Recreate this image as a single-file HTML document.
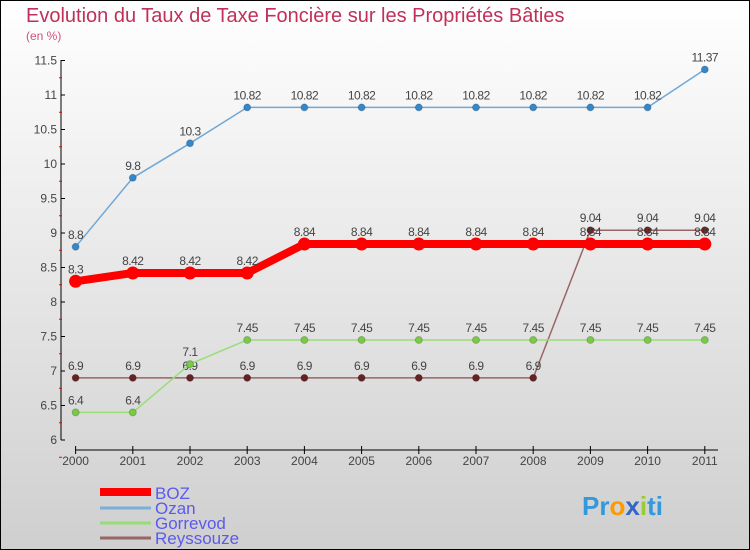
<!DOCTYPE html>
<html><head><meta charset="utf-8"><style>
body{margin:0}
svg{display:block;font-family:"Liberation Sans",sans-serif}
</style></head><body>
<svg width="750" height="550" viewBox="0 0 750 550">
<defs><linearGradient id="bg" x1="0" y1="0" x2="0" y2="1"><stop offset="0" stop-color="#ffffff"/><stop offset="1" stop-color="#cfcfcf"/></linearGradient></defs>
<rect x="0.5" y="0.5" width="749" height="549" fill="url(#bg)" stroke="#000"/>
<text x="26" y="22" font-size="20" fill="#c0305a">Evolution du Taux de Taxe Foncière sur les Propriétés Bâties</text>
<text x="26" y="40" font-size="12" fill="#d05080">(en %)</text>
<g id="axes"></g>
<g id="series"></g>
<g>
<line x1="100" y1="492" x2="151" y2="492" stroke="#ff0000" stroke-width="8"/>
<text x="155" y="499" font-size="17" fill="#5a5aee">BOZ</text>
<line x1="100" y1="508" x2="151" y2="508" stroke="#7ab0d8" stroke-width="3"/>
<text x="155" y="514" font-size="17" fill="#5a5aee">Ozan</text>
<line x1="100" y1="523" x2="151" y2="523" stroke="#99dd77" stroke-width="3"/>
<text x="155" y="529" font-size="17" fill="#5a5aee">Gorrevod</text>
<line x1="100" y1="538" x2="151" y2="538" stroke="#996666" stroke-width="3"/>
<text x="155" y="544" font-size="17" fill="#5a5aee">Reyssouze</text>
</g>
<g font-size="26" font-weight="bold">
<text x="582" y="515"><tspan fill="#3399dd">Pr</tspan><tspan fill="#ff9900">o</tspan><tspan fill="#3366cc">x</tspan><tspan fill="#99cc33">i</tspan><tspan fill="#3399dd">ti</tspan></text>
</g>
</svg>
<script>
const years=[2000,2001,2002,2003,2004,2005,2006,2007,2008,2009,2010,2011];
const yTicks=[6,6.5,7,7.5,8,8.5,9,9.5,10,10.5,11,11.5];
const boz=[8.3,8.42,8.42,8.42,8.84,8.84,8.84,8.84,8.84,8.84,8.84,8.84];
const ozan=[8.8,9.8,10.3,10.82,10.82,10.82,10.82,10.82,10.82,10.82,10.82,11.37];
const gorrevod=[6.4,6.4,7.1,7.45,7.45,7.45,7.45,7.45,7.45,7.45,7.45,7.45];
const reyssouze=[6.9,6.9,6.9,6.9,6.9,6.9,6.9,6.9,6.9,9.04,9.04,9.04];
const NS="http://www.w3.org/2000/svg";
function xs(i){return 75.6+i*57.2;}
function ys(v){return 440-(v-6)*69;}
function mk(t,a,p){const e=document.createElementNS(NS,t);for(const k in a)e.setAttribute(k,a[k]);p.appendChild(e);return e;}
const ax=document.getElementById('axes');
let l=mk('line',{x1:61,y1:60,x2:61,y2:440,stroke:'#000'},ax);


l=mk('line',{x1:75,y1:450,x2:718,y2:450,stroke:'#000'},ax);


yTicks.forEach(v=>{
 const y=ys(v);
 mk('line',{x1:61,y1:y,x2:65,y2:y,stroke:'#000'},ax);
 mk('line',{x1:59,y1:y+17.25,x2:62,y2:y+17.25,stroke:'#e00'},ax);
 const t=mk('text',{x:57,y:y+4,'text-anchor':'end','font-size':12,fill:'#444'},ax);
 t.textContent=String(v);
 
 
});
years.forEach((yr,i)=>{
 const x=xs(i);
 mk('line',{x1:x,y1:446,x2:x,y2:454,stroke:'#000'},ax);
 const t=mk('text',{x:x,y:465,'text-anchor':'middle','font-size':12,fill:'#444'},ax);
 t.textContent=String(yr);
 
 
});
const sg=document.getElementById('series');
function draw(name,data,color,w,dot,dotFill,labels){
 const g=mk('g',{},sg);
 
 
 const p=mk('polyline',{points:data.map((v,i)=>xs(i)+','+ys(v)).join(' '),fill:'none',stroke:color,'stroke-width':w,'stroke-linejoin':'round'},g);
 
 
 data.forEach((v,i)=>{
  const c=mk('circle',{cx:xs(i),cy:ys(v),r:dot,fill:dotFill,stroke:dotFill==='#ff0000'?'none':'#0003'},g);
  
  
  if(labels){const t=mk('text',{x:xs(i),y:ys(v)-8,'text-anchor':'middle','font-size':12,fill:'#444','letter-spacing':'-0.5'},g);
  t.textContent=String(v);
  
  }
 });
}
draw('reyssouze',reyssouze,'#996666',1.5,3.5,'#662222',true);
draw('gorrevod',gorrevod,'#99dd77',1.5,3.5,'#77cc44',true);
draw('ozan',ozan,'#6fa8d8',1.5,3.5,'#3388cc',true);
draw('boz',boz,'#ff0000',8,6.5,'#ff0000',true);
</script>
</body></html>
